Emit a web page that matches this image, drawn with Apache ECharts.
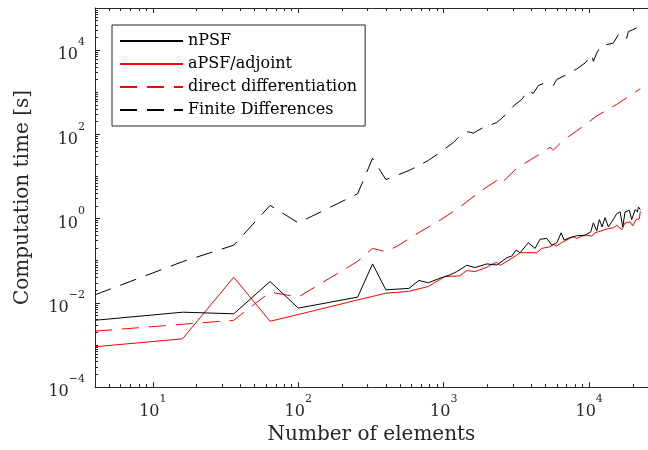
<!DOCTYPE html>
<html>
<head>
<meta charset="utf-8">
<script src="https://cdn.jsdelivr.net/npm/echarts@6/dist/echarts.min.js"></script>
<style>
  html, body { margin: 0; padding: 0; background: #fff; }
  #chart { width: 648px; height: 450px; }
</style>
</head>
<body>
<div id="chart"></div>
<script>
// [elements, seconds]
const nPSF = [
  [4, 0.00386], [16, 0.0060], [36, 0.0055], [64, 0.032], [100, 0.0075],
  [256, 0.0137], [324, 0.084], [400, 0.0204], [576, 0.022], [676, 0.034],
  [784, 0.030], [944, 0.0385], [1100, 0.046], [1230, 0.055], [1440, 0.078],
  [1640, 0.069], [1980, 0.084], [2320, 0.079], [2720, 0.118], [2940, 0.129],
  [3150, 0.179], [3350, 0.155], [3820, 0.267], [4250, 0.196], [4600, 0.325],
  [5120, 0.337], [5540, 0.234], [6000, 0.267], [6420, 0.46], [6730, 0.308],
  [7400, 0.356], [8230, 0.391], [9380, 0.404], [10260, 0.486], [10690, 0.792],
  [11280, 0.513], [11750, 0.947], [12270, 0.637], [12870, 1.056], [13560, 0.637],
  [14310, 0.836], [15490, 1.31], [16330, 1.44], [17030, 0.637], [17660, 1.44],
  [18910, 1.57], [19630, 0.947], [20700, 1.63], [21480, 1.44], [21820, 1.89],
  [22500, 1.63]
];
const aPSF = [
  [4, 0.000907], [16, 0.0014], [36, 0.0406], [64, 0.00366], [100, 0.0053],
  [256, 0.0117], [324, 0.0142], [400, 0.017], [576, 0.0187], [784, 0.0245],
  [1020, 0.0422], [1290, 0.0436], [1440, 0.0585], [1640, 0.0553], [1980, 0.070],
  [2140, 0.082], [2320, 0.092], [2440, 0.077], [2940, 0.114], [3180, 0.136],
  [3350, 0.155], [4370, 0.155], [4720, 0.196], [5380, 0.215], [5680, 0.244],
  [5980, 0.222], [6310, 0.257], [6650, 0.282], [7010, 0.308], [7310, 0.337],
  [7800, 0.37], [8230, 0.337], [8900, 0.383], [9630, 0.404], [10430, 0.383],
  [10990, 0.46], [11890, 0.502], [12870, 0.55], [13560, 0.581], [14690, 0.604],
  [15490, 0.695], [16760, 0.55], [17660, 0.792], [19130, 0.836], [19950, 0.673],
  [21040, 0.947], [22150, 1.0], [22500, 1.49]
];
const directDiff = [
  [4, 0.00213], [16, 0.0031], [36, 0.00386], [64, 0.018], [100, 0.0137],
  [256, 0.0968], [324, 0.196], [400, 0.164], [484, 0.227], [676, 0.468],
  [944, 0.912], [1294, 1.89], [1778, 4.4], [2317, 8.0], [2438, 6.44],
  [3177, 15.7], [4477, 32.3], [5383, 49.1], [5675, 42.4], [6653, 73],
  [8227, 121], [11280, 273], [15490, 515], [22500, 1210]
];
const finiteDiff = [
  [4, 0.0155], [16, 0.095], [36, 0.234], [64, 2.06], [100, 0.792],
  [256, 3.89], [324, 27], [400, 8.45], [576, 13.8], [784, 24],
  [944, 37.4], [1164, 64], [1330, 101], [1476, 115], [1598, 107],
  [1872, 146], [2317, 191], [2642, 284], [3014, 470], [3441, 676],
  [3820, 1102], [4130, 937], [4477, 1445], [4842, 1614], [5675, 1445],
  [5984, 2004], [7014, 2630], [8227, 3580], [9380, 4960], [10430, 7790],
  [10690, 5410], [11280, 8550], [12220, 13400], [13060, 13400], [14660, 14700],
  [16130, 25300], [16760, 21000], [18130, 19300], [18600, 27600], [19950, 30300],
  [21040, 33200], [22500, 43600]
];

const seriesNames = ["nPSF", "aPSF/adjoint", "direct differentiation", "Finite Differences"];
const xLabelTicks = [10, 100, 1000, 10000];
const yLabelTicks = [1e-4, 1e-2, 1, 1e2, 1e4];

// minor ticks at 2..9 of every decade (and odd decades on y)
const xMinorTicks = [];
for (let e = 0; e <= 4; e++) for (let k = 2; k <= 9; k++) xMinorTicks.push(k * Math.pow(10, e));
const yMinorTicks = [];
for (let e = -4; e <= 4; e++) for (let k = 1; k <= 9; k++) {
  if (k === 1 && e % 2 === 0) continue;
  yMinorTicks.push(k * Math.pow(10, e));
}

const FONT = "DejaVu Serif";
const AXIS_COLOR = "#262626";
const X_MIN = 4, X_MAX = 25400, Y_MIN = 1e-4, Y_MAX = 1e5;

const rich = {
  b: { fontFamily: FONT, fontSize: 16, color: AXIS_COLOR, lineHeight: 26, verticalAlign: "bottom" },
  s: { fontFamily: FONT, fontSize: 11, color: AXIS_COLOR, lineHeight: 14, verticalAlign: "top" }
};
const powLabel = (v) => {
  const e = Math.round(Math.log10(v));
  return "{b|10}{s|" + (e < 0 ? "\u2212" + -e : e) + "}";
};

function xAx(extra) {
  return Object.assign({
    type: "log", logBase: 10, min: X_MIN, max: X_MAX,
    axisLine: { show: false }, splitLine: { show: false },
    axisLabel: { show: false }, axisTick: { show: false }
  }, extra);
}
function yAx(extra) {
  return Object.assign({
    type: "log", logBase: 10, min: Y_MIN, max: Y_MAX,
    axisLine: { show: false }, splitLine: { show: false },
    axisLabel: { show: false }, axisTick: { show: false }
  }, extra);
}

const chart = echarts.init(document.getElementById("chart"), null, { renderer: "canvas" });

const dash = [17, 10];
const lines = [
  { data: nPSF, color: "#000000", type: "solid" },
  { data: aPSF, color: "#ff0000", type: "solid" },
  { data: directDiff, color: "#ff0000", type: dash },
  { data: finiteDiff, color: "#000000", type: dash }
];

chart.setOption({
  animation: false,
  backgroundColor: "#ffffff",
  grid: { left: 95, right: 0, top: 8, bottom: 60 },
  legend: {
    data: seriesNames,
    orient: "vertical",
    left: 112, top: 25,
    padding: [8, 8, 8, 7],
    itemWidth: 63, itemHeight: 14, itemGap: 7,
    itemStyle: { opacity: 0 },
    backgroundColor: "#ffffff",
    borderColor: AXIS_COLOR, borderWidth: 1,
    textStyle: { fontFamily: FONT, fontSize: 16, color: "#000000" }
  },
  xAxis: [
    xAx({
      position: "bottom",
      name: "Number of elements", nameLocation: "middle", nameGap: 37,
      nameTextStyle: { fontFamily: FONT, fontSize: 20, color: AXIS_COLOR },
      axisLine: { show: true, lineStyle: { color: AXIS_COLOR, width: 1 } },
      axisTick: { show: true, inside: true, length: 5, customValues: xLabelTicks, lineStyle: { color: AXIS_COLOR } },
      axisLabel: { show: true, margin: 7, customValues: xLabelTicks, formatter: powLabel, rich: rich }
    }),
    xAx({ position: "bottom", axisTick: { show: true, inside: true, length: 3, customValues: xMinorTicks, lineStyle: { color: AXIS_COLOR } } }),
    xAx({
      position: "top",
      axisLine: { show: true, lineStyle: { color: AXIS_COLOR, width: 1 } },
      axisTick: { show: true, inside: true, length: 5, customValues: xLabelTicks, lineStyle: { color: AXIS_COLOR } }
    }),
    xAx({ position: "top", axisTick: { show: true, inside: true, length: 3, customValues: xMinorTicks, lineStyle: { color: AXIS_COLOR } } })
  ],
  yAxis: [
    yAx({
      position: "left",
      name: "Computation time [s]", nameLocation: "middle", nameGap: 62,
      nameTextStyle: { fontFamily: FONT, fontSize: 20, color: AXIS_COLOR },
      axisLine: { show: true, lineStyle: { color: AXIS_COLOR, width: 1 } },
      axisTick: { show: true, inside: true, length: 5, customValues: yLabelTicks, lineStyle: { color: AXIS_COLOR } },
      axisLabel: { show: true, margin: 10, customValues: yLabelTicks, formatter: powLabel, rich: rich }
    }),
    yAx({ position: "left", axisTick: { show: true, inside: true, length: 3, customValues: yMinorTicks, lineStyle: { color: AXIS_COLOR } } })
  ],
  series: lines.map((s, i) => ({
    name: seriesNames[i],
    type: "line",
    data: s.data,
    xAxisIndex: 0, yAxisIndex: 0,
    symbol: "none", showSymbol: false,
    color: s.color,
    lineStyle: { color: s.color, width: 1, type: s.type },
    z: 10 - i
  }))
});
</script>
</body>
</html>
